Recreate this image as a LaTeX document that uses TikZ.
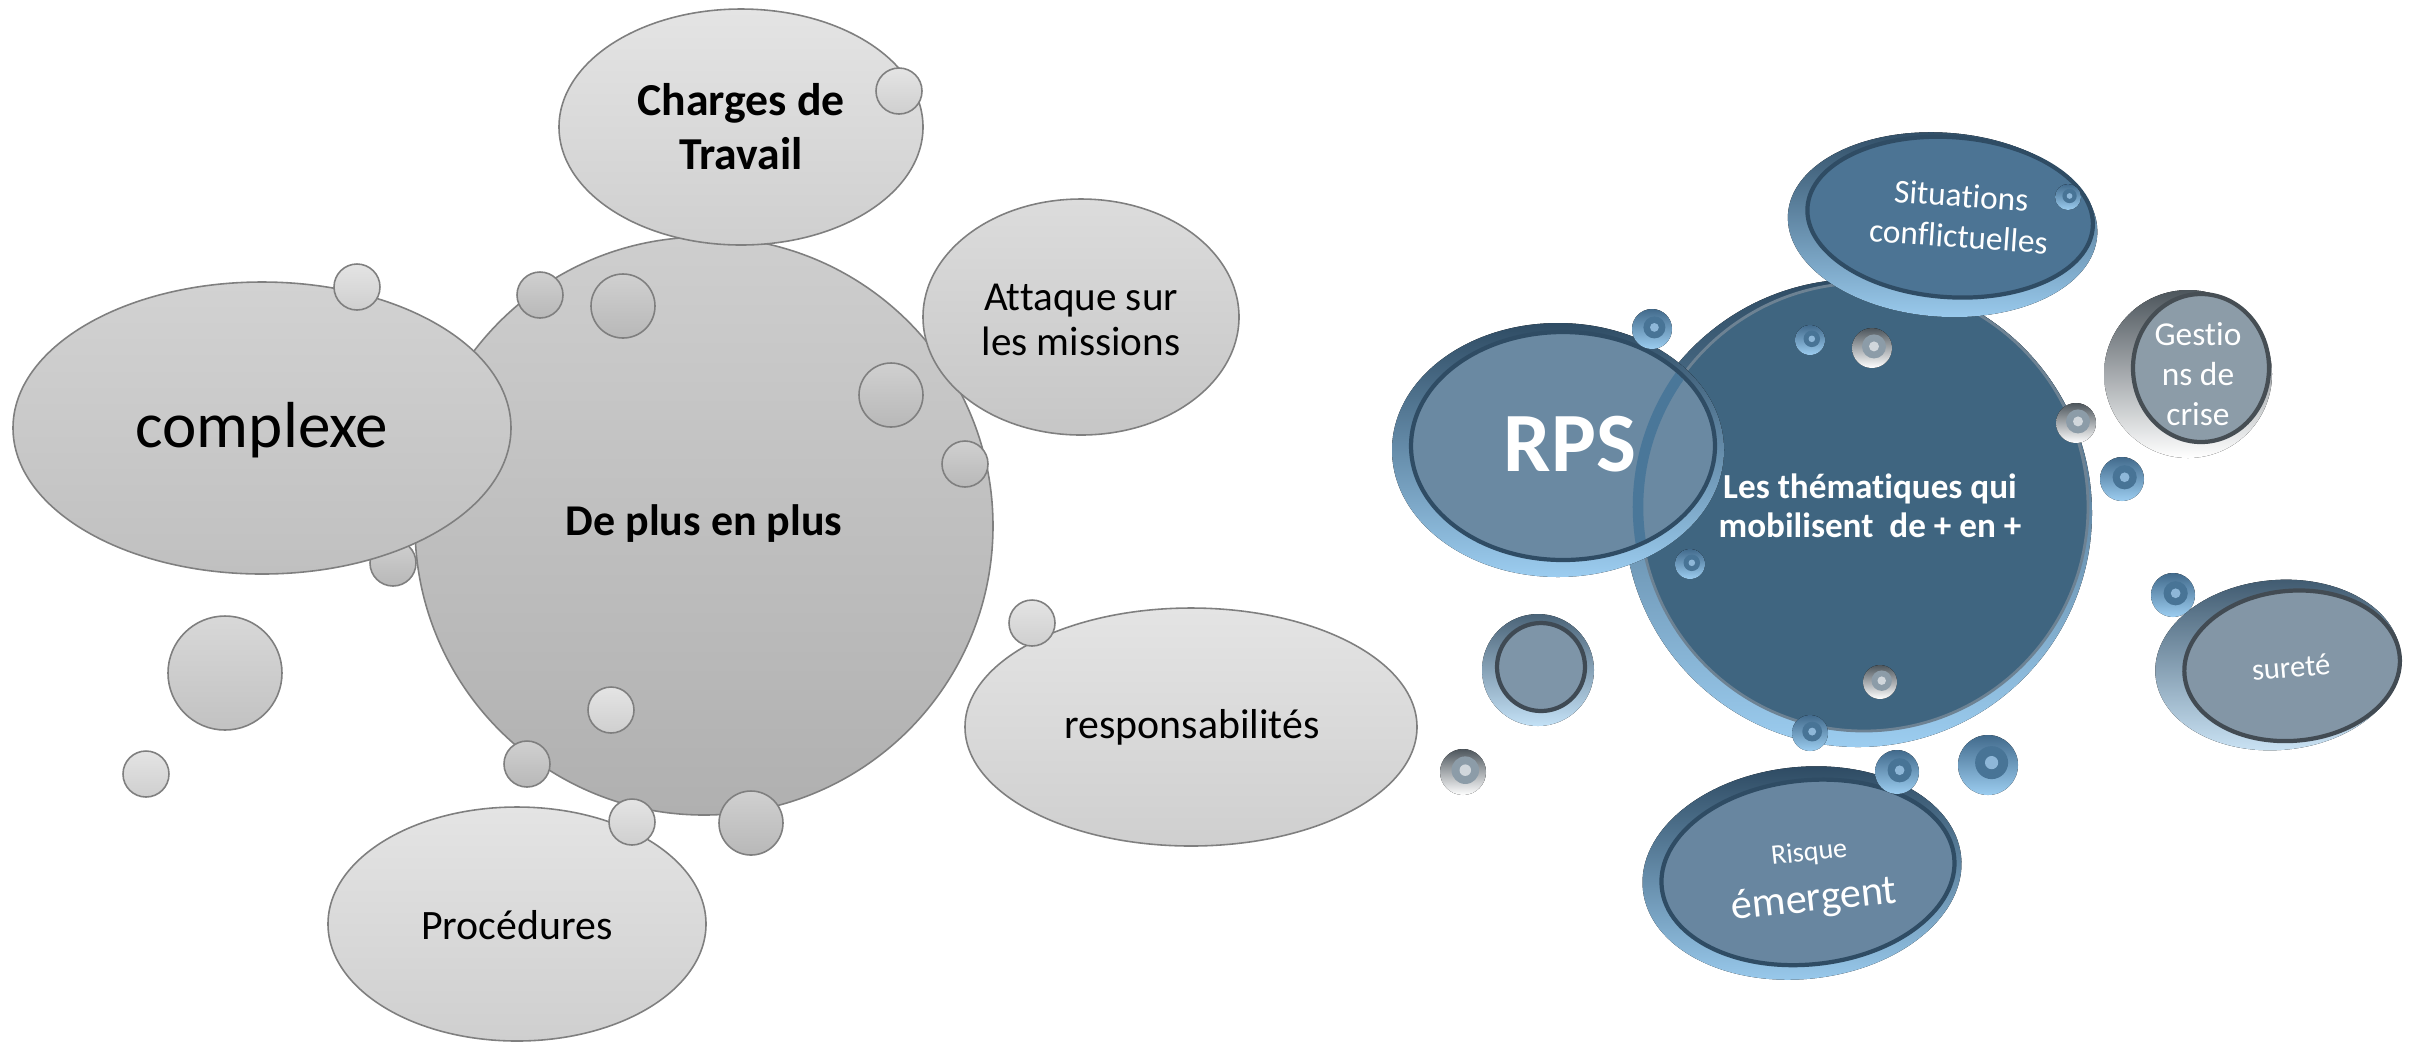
\documentclass[tikz,border=0pt]{standalone}
\usepackage{fontspec}
\setmainfont{Carlito}[Ligatures=NoCommon]
\usepackage{tikz}
\usetikzlibrary{calc}
\definecolor{edgegray}{HTML}{7F7F7F}
\definecolor{bigtop}{HTML}{CECECE}
\definecolor{bigbot}{HTML}{B0B0B0}
\definecolor{paletop}{HTML}{E4E4E4}
\definecolor{palebot}{HTML}{CFCFCF}
\definecolor{midtop}{HTML}{D0D0D0}
\definecolor{midbot}{HTML}{B8B8B8}
\definecolor{plextop}{HTML}{D2D2D2}
\definecolor{plexbot}{HTML}{C0C0C0}
\definecolor{atttop}{HTML}{DCDCDC}
\definecolor{attbot}{HTML}{C6C6C6}
\definecolor{dottop}{HTML}{D8D8D8}
\definecolor{dotbot}{HTML}{C2C2C2}
\definecolor{rimlight}{HTML}{9CCDF0}
\definecolor{rimblue}{HTML}{5E98C8}
\definecolor{rimdark}{HTML}{2F4C64}
\definecolor{coreface}{HTML}{3F6580}
\definecolor{sitface}{HTML}{4C7494}
\definecolor{rpsface}{HTML}{6A89A2}
\definecolor{risqface}{HTML}{6886A0}
\definecolor{surface}{HTML}{8396A6}
\definecolor{gestface}{HTML}{8C9CA8}
\definecolor{bubface}{HTML}{7E95A8}

\tikzset{
  greyedge/.style={draw=edgegray,line width=0.45pt},
  paledisc/.style={greyedge,top color=paletop,bottom color=palebot},
  middisc/.style={greyedge,top color=midtop,bottom color=midbot},
  bluebody/.style={top color=rimdark,bottom color=rimlight},
  whitebody/.style={top color=gestface!55!black,bottom color=white},
  faceline/.style={draw=rimdark,line width=1.2pt},
  blab/.style={text=black,align=center},
  wlab/.style={text=white,align=center},
}

\begin{document}
\begin{tikzpicture}[x=0.01cm,y=-0.01cm]
\useasboundingbox (0,0) rectangle (2414,1044);

\draw[middisc,top color=bigtop,bottom color=bigbot] (704,526) circle [radius=289];
\foreach \cx/\cy/\r in {540/295/23,623/306/32,891/395/32,965/464/23,393/563/23,527/764/23,751/823/32}
  \draw[middisc] (\cx,\cy) circle [radius=\r];
\draw[middisc,top color=plextop,bottom color=plexbot] (262,428) ellipse [x radius=249,y radius=146];
\draw[paledisc] (741,127) ellipse [x radius=182,y radius=118];
\draw[paledisc,top color=atttop,bottom color=attbot] (1081,317) ellipse [x radius=158,y radius=118];
\draw[paledisc] (1191,727) ellipse [x radius=226,y radius=119];
\draw[paledisc] (517,924) ellipse [x radius=189,y radius=117];
\draw[paledisc,top color=dottop,bottom color=dotbot] (225,673) circle [radius=57];
\foreach \cx/\cy/\r in {899/91/23,357/287/23,611/710/23,632/822/23,1032/623/23,146/774/23}
  \draw[paledisc] (\cx,\cy) circle [radius=\r];

\node[blab,font=\fontsize{13}{15.4}\selectfont\bfseries] (charges) at (741,127) {Charges de\\Travail};
\node[blab,font=\fontsize{18.5}{22}\selectfont] (complexe) at (262,430) {complexe};
\node[blab,font=\fontsize{12.5}{15}\selectfont\bfseries] (deplus) at (704,524) {De plus en plus};
\node[blab,font=\fontsize{11.7}{12.8}\selectfont] (attaque) at (1081,320) {Attaque sur\\les missions};
\node[blab,font=\fontsize{11.9}{14}\selectfont] (respons) at (1192,727) {responsabilités};
\node[blab,font=\fontsize{11.9}{14}\selectfont] (procedures) at (517,925) {Procédures};

\fill[bluebody] (1858,513) circle [radius=234];
\fill[coreface] (1864,507) circle [radius=224];
\draw[rimdark!70,line width=0.8pt] (1864,507) circle [radius=224];

\begin{scope}[shift={(1948,219)},rotate=-4]
  \fill[bluebody] (-5,6) ellipse [x radius=155,y radius=92];
  \fill[sitface] (2,-2) ellipse [x radius=143,y radius=80];
  \draw[faceline] (2,-2) ellipse [x radius=143,y radius=80];
\end{scope}

\fill[bluebody] (1558,450) ellipse [x radius=166,y radius=127];
\fill[rpsface] (1563,446) ellipse [x radius=152,y radius=114];
\begin{scope}
  \clip (1563,446) ellipse [x radius=150,y radius=112];
  \draw[rimblue!35!coreface,line width=3pt] (1864,507) circle [radius=226];
\end{scope}
\draw[faceline] (1563,446) ellipse [x radius=152,y radius=114];

\fill[whitebody] (2188,374) circle [radius=84];
\fill[gestface] (2201,368) ellipse [x radius=68,y radius=74];
\draw[faceline,draw=gestface!50!black] (2201,368) ellipse [x radius=68,y radius=74];

\begin{scope}[shift={(2278,665)},rotate=5]
  \fill[bluebody,top color=rimdark!80!gestface,bottom color=rimlight!50!white] (0,0) ellipse [x radius=123,y radius=85];
  \fill[surface] (14,2) ellipse [x radius=108,y radius=75];
  \draw[faceline,draw=surface!50!black] (14,2) ellipse [x radius=108,y radius=75];
\end{scope}

\begin{scope}[shift={(1802,873)},rotate=6]
  \fill[bluebody] (0,0) ellipse [x radius=160,y radius=106];
  \fill[risqface] (6,0) ellipse [x radius=147,y radius=92];
  \draw[faceline] (6,0) ellipse [x radius=147,y radius=92];
\end{scope}

\fill[bluebody,top color=rimdark!70!gestface,bottom color=rimlight!60!white] (1538,670) circle [radius=56];
\fill[bubface] (1541,667) circle [radius=44];
\draw[faceline,draw=bubface!50!black] (1541,667) circle [radius=44];

\foreach \cx/\cy/\r in {1652/329/20,1810/340/15,1690/564/15,1810/733/18,2068/197/13,2122/479/22,1897/772/22,1988/765/30,2173/595/22} {
  \fill[bluebody,top color=rimblue!70!black,bottom color=rimlight] (\cx,\cy) circle [radius=\r];
  \fill[coreface!70!rimblue] (\cx+0.12*\r,\cy-0.08*\r) circle [radius=0.55*\r];
  \fill[rimblue!70!white] (\cx+0.12*\r,\cy-0.08*\r) circle [radius=0.22*\r];
}
\foreach \cx/\cy/\r in {1872/348/20,2076/423/20,1880/682/17,1463/772/23} {
  \fill[whitebody] (\cx,\cy) circle [radius=\r];
  \fill[gestface] (\cx+0.1*\r,\cy-0.08*\r) circle [radius=0.6*\r];
  \fill[gestface!40!white] (\cx+0.1*\r,\cy-0.08*\r) circle [radius=0.25*\r];
}

\node[wlab,font=\fontsize{24}{28}\selectfont\bfseries] (rps) at (1570,444) {RPS};
\node[wlab,font=\fontsize{10}{11}\selectfont\bfseries] (themes) at (1870,506) {Les thématiques qui\\mobilisent\ \ de + en +};
\node[wlab,font=\fontsize{9.5}{11.6}\selectfont,rotate=-4] (situations) at (1960,216) {Situations\\conflictuelles};
\node[wlab,font=\fontsize{9.5}{11.4}\selectfont] (gestions) at (2198,374) {Gestio\\ns de\\crise};
\node[wlab,font=\fontsize{8.7}{10}\selectfont,rotate=5] (surete) at (2291,667) {sureté};
\node[wlab,font=\fontsize{8}{11.4}\selectfont,rotate=6] (risque) at (1812,880) {Risque\\[3pt]\fontsize{12}{13}\selectfont émergent};
\end{tikzpicture}
\end{document}
